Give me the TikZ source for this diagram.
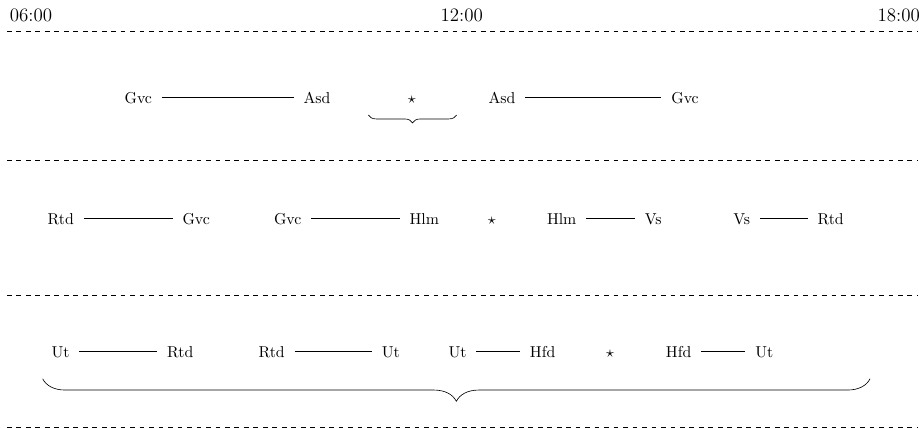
\documentclass[tikz,border=0pt]{standalone}
\usetikzlibrary{decorations.pathreplacing}
\begin{document}
\begin{tikzpicture}[x=0.633pt, y=-0.633pt,
  lbl/.style={anchor=base, inner sep=0pt, outer sep=6.3pt, text height=6.94pt, text depth=0pt},
  hour/.style={anchor=base, font=\large, inner sep=0pt},
  sep/.style={dashed},
  link/.style={draw},
  grp/.style={decorate, decoration={brace, amplitude=#1}}]
\useasboundingbox (0,0) rectangle (919,428);

% hour marks
\node[hour] (t06) at (31,21.7) {06:00};
\node[hour] (t12) at (461.7,21.7) {12:00};
\node[hour] (t18) at (898.8,21.7) {18:00};

% separators
\foreach \yy in {31,160,295,427}
  \draw[sep] (7,\yy) -- (917,\yy);

% first row
\node[lbl] (g1) at (138.3,103) {Gvc};
\node[lbl] (a1) at (317,103) {Asd};
\node[lbl] (s1) at (411.7,103) {$\star$};
\node[lbl] (a2) at (502,103) {Asd};
\node[lbl] (g2) at (685,103) {Gvc};
\draw[link] (g1) -- (a1);
\draw[link] (a2) -- (g2);
\coordinate (b1r) at (456.7,115);
\coordinate (b1l) at (368.3,115);
\draw[grp=5pt] (b1r) -- (b1l);

% second row
\node[lbl] (r1) at (60.8,224) {Rtd};
\node[lbl] (g3) at (196.2,224) {Gvc};
\node[lbl] (g4) at (287.7,224) {Gvc};
\node[lbl] (h1) at (424.3,224) {Hlm};
\node[lbl] (s2) at (491.7,224) {$\star$};
\node[lbl] (h2) at (561.7,224) {Hlm};
\node[lbl] (v1) at (653.2,224) {Vs};
\node[lbl] (v2) at (741.8,224) {Vs};
\node[lbl] (r2) at (830.7,224) {Rtd};
\draw[link] (r1) -- (g3);
\draw[link] (g4) -- (h1);
\draw[link] (h2) -- (v1);
\draw[link] (v2) -- (r2);

% third row
\node[lbl] (u1) at (60.5,357) {Ut};
\node[lbl] (r3) at (180.3,357) {Rtd};
\node[lbl] (r4) at (271.7,357) {Rtd};
\node[lbl] (u2) at (390.8,357) {Ut};
\node[lbl] (u3) at (457.5,357) {Ut};
\node[lbl] (f1) at (542.7,357) {Hfd};
\node[lbl] (s3) at (610,357) {$\star$};
\node[lbl] (f2) at (678.7,357) {Hfd};
\node[lbl] (u4) at (764.3,357) {Ut};
\draw[link] (u1) -- (r3);
\draw[link] (r4) -- (u2);
\draw[link] (u3) -- (f1);
\draw[link] (f2) -- (u4);
\coordinate (b3r) at (870,378.8);
\coordinate (b3l) at (42.7,378.8);
\draw[grp=5mm] (b3r) -- (b3l);
\end{tikzpicture}
\end{document}
